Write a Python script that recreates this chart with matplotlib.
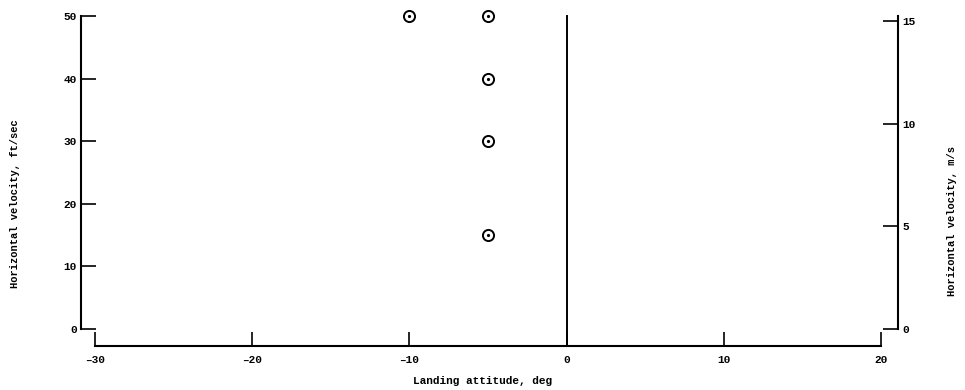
import matplotlib
matplotlib.use("Agg")
import matplotlib.pyplot as plt

# Test points: landing attitude (deg) vs horizontal velocity (ft/sec)
attitude_deg = [-10, -5, -5, -5, -5]
velocity_fps = [50, 50, 40, 30, 15]

x_ticks = [-30, -20, -10, 0, 10, 20]
y_ticks = [0, 10, 20, 30, 40, 50]
y_ticks_ms = [0, 5, 10, 15]
FT_TO_M = 0.3048

font = ["Liberation Mono", "DejaVu Sans Mono"]
plt.rcParams["font.family"] = font
plt.rcParams["font.weight"] = "bold"

W, H = 965, 390
fig = plt.figure(figsize=(W / 100, H / 100), dpi=100)
ax = fig.add_axes([95 / W, 61 / H, 786 / W, 313 / H])

lw = 1.5
ax.set_xlim(-30, 20)
ax.set_ylim(0, 50)
for side in ("top", "right"):
    ax.spines[side].set_visible(False)
ax.spines["left"].set_position(("outward", 10))
ax.spines["bottom"].set_position(("outward", 12.5))
ax.spines["left"].set_linewidth(lw)
ax.spines["bottom"].set_linewidth(lw)

ax.set_xticks(x_ticks)
ax.set_yticks(y_ticks)
ax.set_xticklabels([str(v).replace("-", "\u2013") for v in x_ticks])
ax.tick_params(axis="x", direction="in", length=10, width=1.2, pad=6, labelsize=8)
ax.tick_params(axis="y", direction="in", length=11, width=1.2, pad=3, labelsize=8)

# reference line at zero attitude, running down to the bottom axis
ax.axvline(0, ymin=-17 / 313, ymax=1, color="black", lw=1.4, clip_on=False)

# circle-dot markers
ax.plot(attitude_deg, velocity_fps, ls="none", marker="o", ms=8, mfc="none",
        mec="black", mew=1.4, clip_on=False)
ax.plot(attitude_deg, velocity_fps, ls="none", marker="o", ms=1.3,
        color="black", clip_on=False)

# metric scale on the right
ax2 = ax.twinx()
ax2.set_ylim(0, 50 * FT_TO_M)
for side in ("top", "left", "bottom"):
    ax2.spines[side].set_visible(False)
ax2.spines["right"].set_position(("outward", 12.5))
ax2.spines["right"].set_linewidth(lw)
ax2.spines["right"].set_bounds(0, 50 * FT_TO_M)
ax2.set_yticks(y_ticks_ms)
ax2.tick_params(axis="y", direction="in", length=11, width=1.2, pad=3, labelsize=8)

# axis titles
lab = dict(fontsize=7.5, fontweight="bold", ha="center", va="center")
fig.text(483 / W, 1 - 381 / H, "Landing attitude, deg", **{**lab, "fontsize": 8})
fig.text(15 / W, 1 - 204 / H, "Horizontal velocity, ft/sec", rotation=90, **lab)
fig.text(952 / W, 1 - 221 / H, "Horizontal velocity, m/s", rotation=90, **lab)

fig.savefig("out.png", dpi=100, facecolor="white")
